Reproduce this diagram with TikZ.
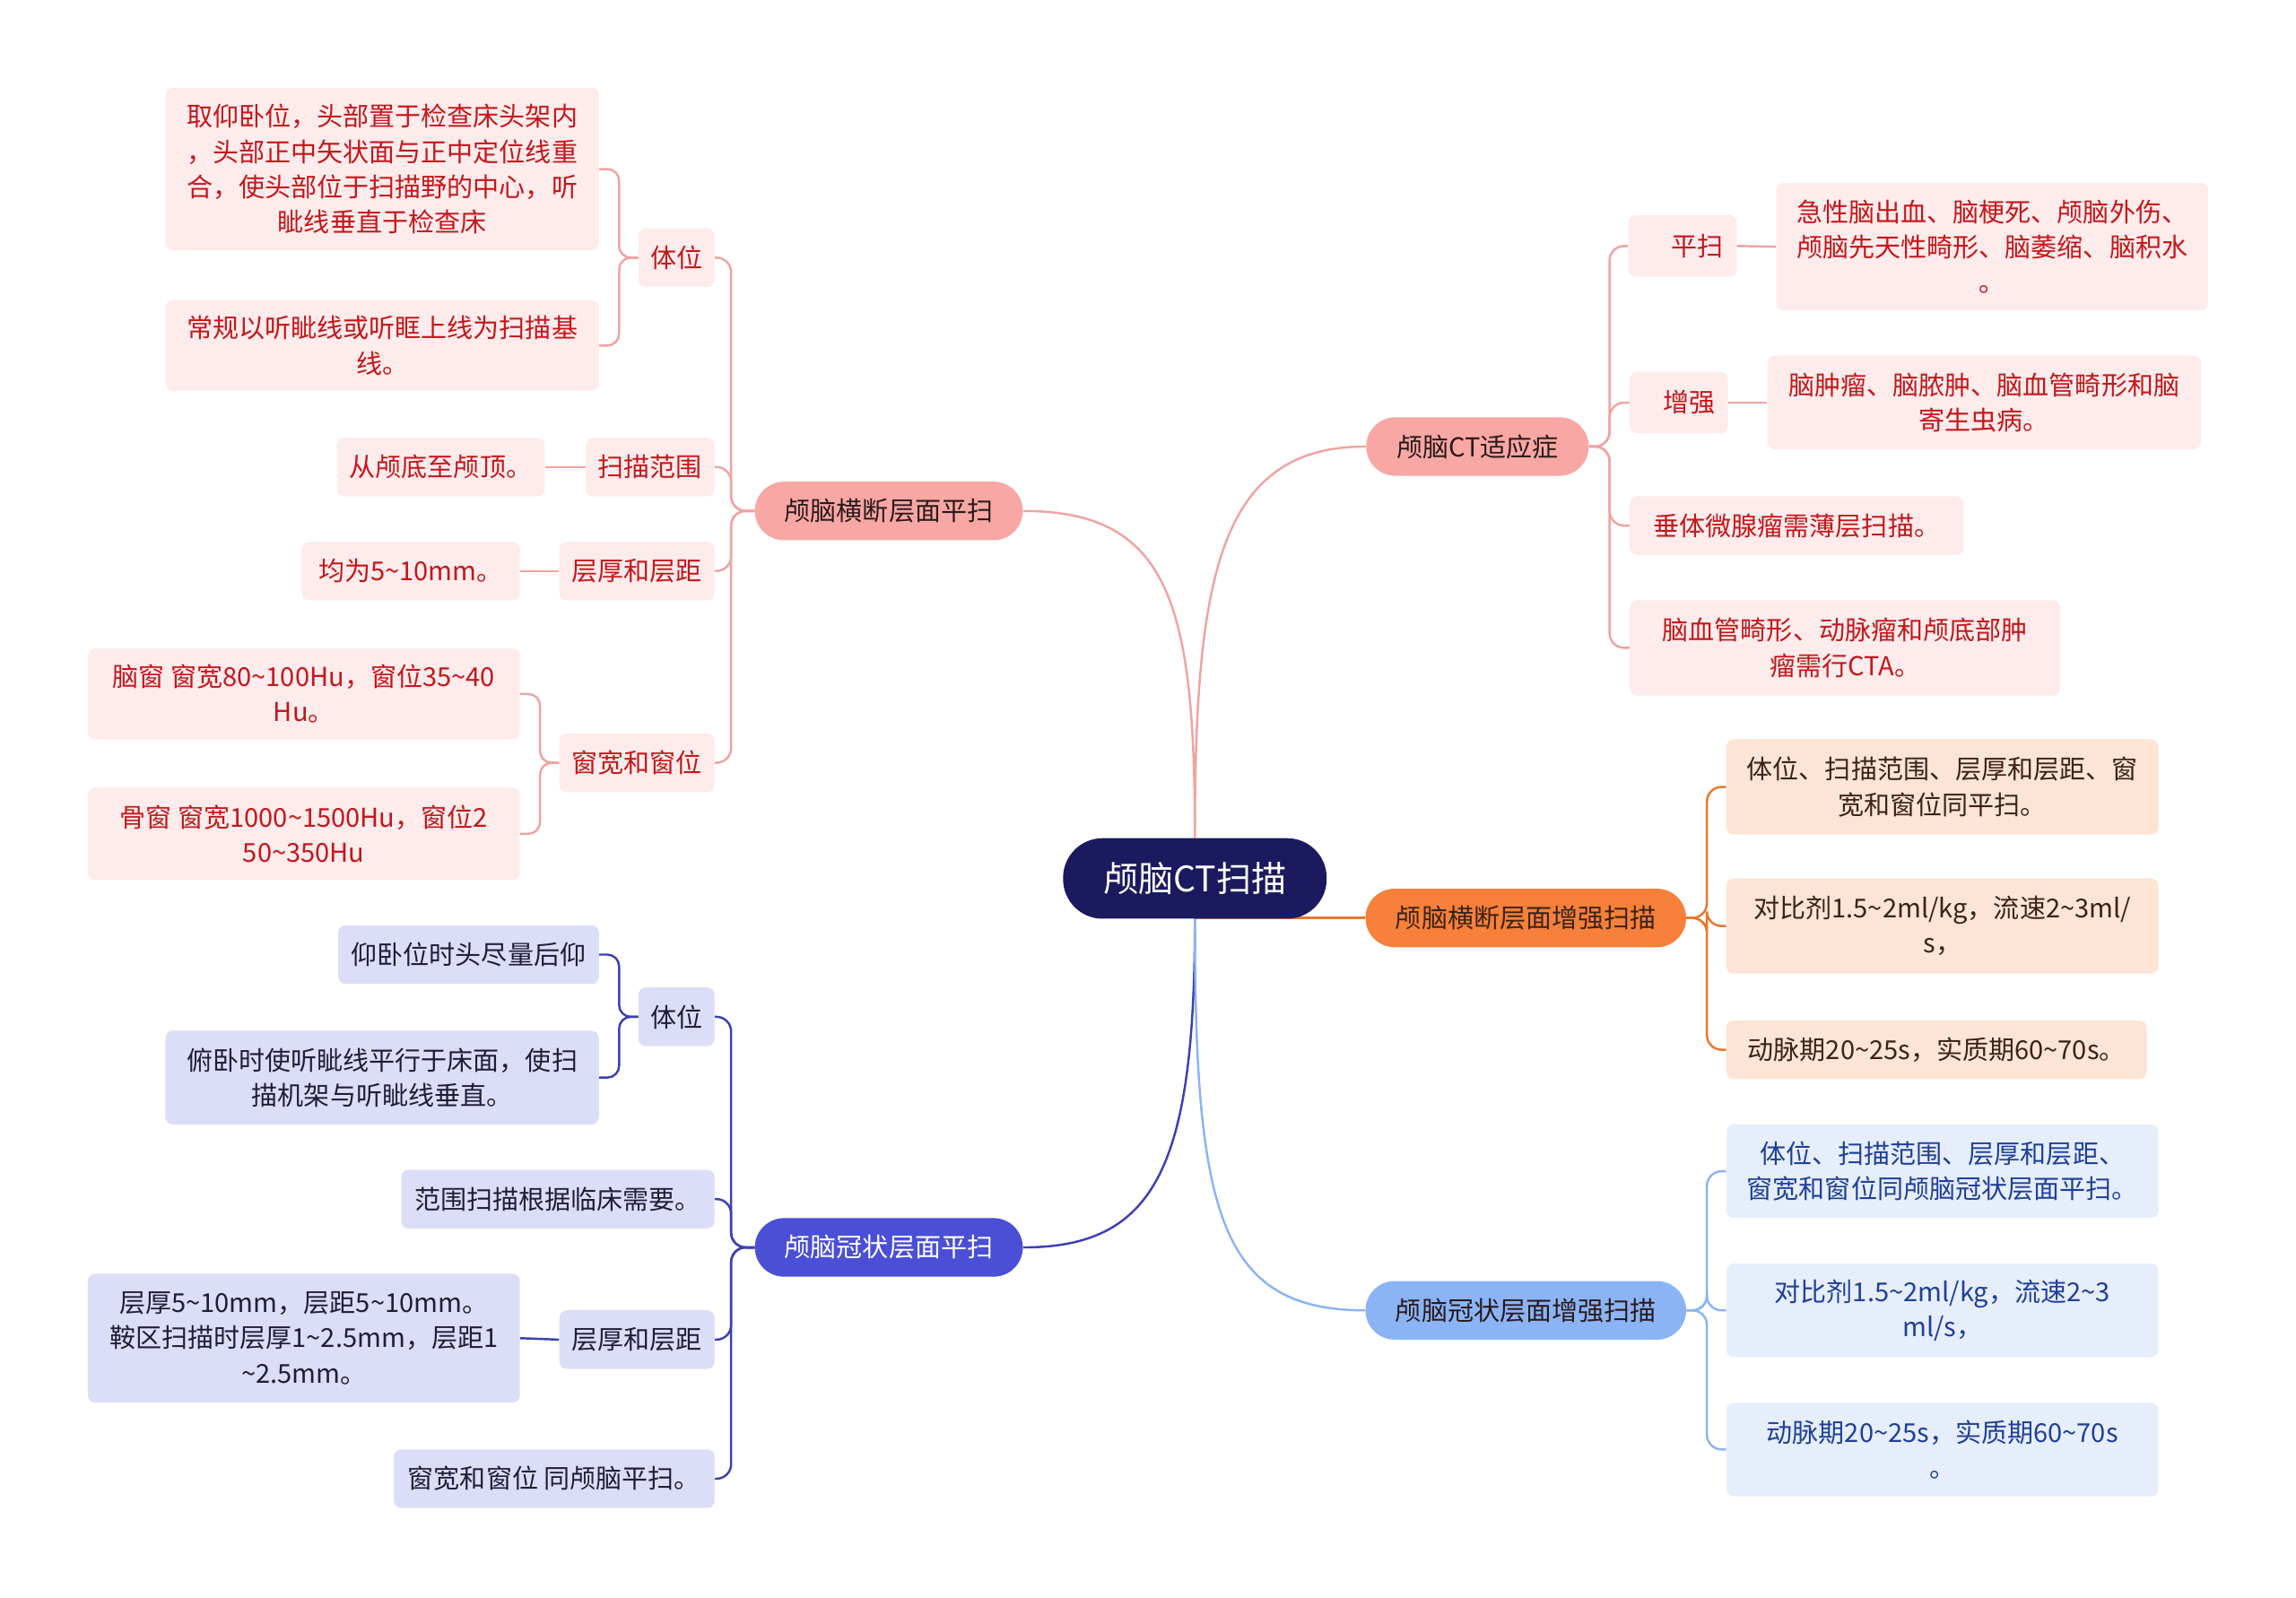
\documentclass[tikz,border=0pt]{standalone}
\usepackage{fontspec}
\setmainfont{Noto Sans CJK SC}
\usepackage{xcolor}
\usepackage{tikz}
\usetikzlibrary{backgrounds}

\definecolor{rootblue}{HTML}{1C1A5E}
\definecolor{pinkmain}{HTML}{F8A7A4}
\definecolor{pinkline}{HTML}{F0A3A1}
\definecolor{pinkleaf}{HTML}{FDECEB}
\definecolor{pinktext}{HTML}{C4161C}
\definecolor{orangemain}{HTML}{F7803A}
\definecolor{orangeline}{HTML}{E8782F}
\definecolor{orangeleaf}{HTML}{FDE4D4}
\definecolor{orangetext}{HTML}{3A2414}
\definecolor{violetmain}{HTML}{4A4FD6}
\definecolor{violetline}{HTML}{3C3FB4}
\definecolor{violetleaf}{HTML}{DCDDF6}
\definecolor{violettext}{HTML}{1E1E3C}
\definecolor{skymain}{HTML}{8AB4F6}
\definecolor{skyleaf}{HTML}{E6EEFC}
\definecolor{skytext}{HTML}{1F3F99}
\definecolor{darktext}{HTML}{2A1A1A}

\newcommand{\tld}{\textasciitilde}

\begin{document}
\begin{tikzpicture}[x=1pt,y=1pt,yscale=-1,xscale=1,
  every node/.style={inner sep=0pt,align=center,font=\fontsize{17.8}{24}\selectfont},
  rootnode/.style={fill=rootblue,text=white,rounded corners=27pt,minimum width=180pt,minimum height=55pt,font=\fontsize{24}{28}\selectfont},
  topic/.style={rounded corners=20pt,minimum height=40pt},
  leaf/.style={rounded corners=5pt,minimum height=40pt},
  pinkbox/.style={leaf,fill=pinkleaf,text=pinktext},
  orangebox/.style={leaf,fill=orangeleaf,text=orangetext},
  violetbox/.style={leaf,fill=violetleaf,text=violettext},
  skybox/.style={leaf,fill=skyleaf,text=skytext},
  link/.style={line width=1.5pt}]

\useasboundingbox (0,0) rectangle (1568,1091);

\draw (816,600) node [rootnode] (root) {颅脑CT扫描};

\draw (607,349) node [topic,fill=pinkmain,text=darktext,minimum width=183pt] (hsp) {颅脑横断层面平扫};

\draw (607,852) node [topic,fill=violetmain,text=white,minimum width=183pt] (gzp) {颅脑冠状层面平扫};

\draw (1009,305) node [topic,fill=pinkmain,text=darktext,minimum width=152pt] (syz) {颅脑CT适应症};

\draw (1042,627) node [topic,fill=orangemain,text=orangetext,minimum width=219pt] (hzq) {颅脑横断层面增强扫描};

\draw (1042,895) node [topic,fill=skymain,text=darktext,minimum width=219pt] (gzq) {颅脑冠状层面增强扫描};


\draw (462,176) node [pinkbox,minimum width=52pt] (hspTw) {体位};

\draw (261,115.5) node [pinkbox,minimum width=296pt,minimum height=111pt] (hspTwA) {取仰卧位，头部置于检查床头架内\\，头部正中矢状面与正中定位线重\\合，使头部位于扫描野的中心，听\\眦线垂直于检查床};

\draw (261,236) node [pinkbox,minimum width=296pt,minimum height=62pt] (hspTwB) {常规以听眦线或听眶上线为扫描基\\线。};

\draw (444,319) node [pinkbox,minimum width=88pt] (hspFw) {扫描范围};

\draw (301,319) node [pinkbox,minimum width=142pt] (hspFwA) {从颅底至颅顶。};

\draw (435,390) node [pinkbox,minimum width=106pt] (hspHd) {层厚和层距};

\draw (280.5,390) node [pinkbox,minimum width=149pt] (hspHdA) {均为5\tld10mm。};

\draw (435,521) node [pinkbox,minimum width=106pt] (hspCk) {窗宽和窗位};

\draw (207.5,474) node [pinkbox,minimum width=295pt,minimum height=62pt] (hspCkA) {脑窗 窗宽80\tld100Hu，窗位35\tld40\\Hu。};

\draw (207.5,569.5) node [pinkbox,minimum width=295pt,minimum height=63pt] (hspCkB) {骨窗 窗宽1000\tld1500Hu，窗位2\\50\tld350Hu};


\draw (1149,168) node [pinkbox,minimum width=74pt,minimum height=42pt] (syzPs) {\hspace{20pt}平扫};

\draw (1360.5,168.5) node [pinkbox,minimum width=295pt,minimum height=87pt] (syzPsA) {急性脑出血、脑梗死、颅脑外伤、\\颅脑先天性畸形、脑萎缩、脑积水\\。};

\draw (1146.5,275) node [pinkbox,minimum width=67pt,minimum height=42pt] (syzZq) {\hspace{14pt}增强};

\draw (1355,275) node [pinkbox,minimum width=296pt,minimum height=64pt] (syzZqA) {脑肿瘤、脑脓肿、脑血管畸形和脑\\寄生虫病。};

\draw (1227,359) node [pinkbox,minimum width=228pt] (syzCt) {垂体微腺瘤需薄层扫描。};

\draw (1260,442.5) node [pinkbox,minimum width=294pt,minimum height=65pt] (syzCta) {脑血管畸形、动脉瘤和颅底部肿\\瘤需行CTA。};


\draw (1326.5,537.5) node [orangebox,minimum width=295pt,minimum height=65pt] (hzqA) {体位、扫描范围、层厚和层距、窗\\宽和窗位同平扫。};

\draw (1326.5,632.5) node [orangebox,minimum width=295pt,minimum height=65pt] (hzqB) {对比剂1.5\tld2ml/kg，流速2\tld3ml/\\s，};

\draw (1322.5,717) node [orangebox,minimum width=287pt] (hzqC) {动脉期20\tld25s，实质期60\tld70s。};


\draw (1326.5,800) node [skybox,minimum width=295pt,minimum height=64pt] (gzqA) {体位、扫描范围、层厚和层距、\\窗宽和窗位同颅脑冠状层面平扫。};

\draw (1326.5,895) node [skybox,minimum width=295pt,minimum height=64pt] (gzqB) {对比剂1.5\tld2ml/kg，流速2\tld3\\ml/s，};

\draw (1326.5,990) node [skybox,minimum width=295pt,minimum height=64pt] (gzqC) {动脉期20\tld25s，实质期60\tld70s\\。};


\draw (462,694.5) node [violetbox,minimum width=52pt] (gzpTw) {体位};

\draw (320,652) node [violetbox,minimum width=178pt] (gzpTwA) {仰卧位时头尽量后仰};

\draw (261,736) node [violetbox,minimum width=296pt,minimum height=64pt] (gzpTwB) {俯卧时使听眦线平行于床面，使扫\\描机架与听眦线垂直。};

\draw (381,819) node [violetbox,minimum width=214pt] (gzpFw) {范围扫描根据临床需要。};

\draw (435,915) node [violetbox,minimum width=106pt] (gzpHd) {层厚和层距};

\draw (207.5,914) node [violetbox,minimum width=295pt,minimum height=88pt] (gzpHdA) {层厚5\tld10mm，层距5\tld10mm。\\鞍区扫描时层厚1\tld2.5mm，层距1\\\tld2.5mm。};

\draw (378.5,1010) node [violetbox,minimum width=219pt] (gzpCk) {窗宽和窗位 同颅脑平扫。};


\begin{pgfonlayer}{background}
\draw [link,pinkline] (root.north) .. controls +(0,-160) and +(100,0) .. (hsp.east);
\draw [link,pinkline] (root.north) .. controls +(0,-180) and +(-100,0) .. (syz.west);
\draw [link,orangeline] (root |- hzq.west) -- (hzq.west);
\draw [link,violetline] (root.south) .. controls +(0,170) and +(90,0) .. (gzp.east);
\draw [link,skymain] (root.south) .. controls +(0,200) and +(-100,0) .. (gzq.west);

\draw [link,pinkline,rounded corners=10pt] (hsp.west) -- ++(-16,0) |- (hspTw.east);
\draw [link,pinkline,rounded corners=10pt] (hsp.west) -- ++(-16,0) |- (hspFw.east);
\draw [link,pinkline,rounded corners=10pt] (hsp.west) -- ++(-16,0) |- (hspHd.east);
\draw [link,pinkline,rounded corners=10pt] (hsp.west) -- ++(-16,0) |- (hspCk.east);
\draw [link,pinkline,rounded corners=8pt] (hspTw.west) -- ++(-13,0) |- (hspTwA.east);
\draw [link,pinkline,rounded corners=8pt] (hspTw.west) -- ++(-13,0) |- (hspTwB.east);
\draw [link,pinkline] (hspFw.west) -- (hspFwA.east);
\draw [link,pinkline] (hspHd.west) -- (hspHdA.east);
\draw [link,pinkline,rounded corners=8pt] (hspCk.west) -- ++(-13,0) |- (hspCkA.east);
\draw [link,pinkline,rounded corners=8pt] (hspCk.west) -- ++(-13,0) |- (hspCkB.east);

\draw [link,pinkline,rounded corners=10pt] (syz.east) -- ++(14,0) |- (syzPs.west);
\draw [link,pinkline,rounded corners=10pt] (syz.east) -- ++(14,0) |- (syzZq.west);
\draw [link,pinkline,rounded corners=10pt] (syz.east) -- ++(14,0) |- (syzCt.west);
\draw [link,pinkline,rounded corners=10pt] (syz.east) -- ++(14,0) |- (syzCta.west);
\draw [link,pinkline] (syzPs.east) -- (syzPsA.west);
\draw [link,pinkline] (syzZq.east) -- (syzZqA.west);

\draw [link,orangeline,rounded corners=10pt] (hzq.east) -- ++(14,0) |- (hzqA.west);
\draw [link,orangeline,rounded corners=10pt] (hzq.east) -- ++(14,0) |- (hzqB.west);
\draw [link,orangeline,rounded corners=10pt] (hzq.east) -- ++(14,0) |- (hzqC.west);

\draw [link,skymain,rounded corners=10pt] (gzq.east) -- ++(14,0) |- (gzqA.west);
\draw [link,skymain,rounded corners=10pt] (gzq.east) -- ++(14,0) |- (gzqB.west);
\draw [link,skymain,rounded corners=10pt] (gzq.east) -- ++(14,0) |- (gzqC.west);

\draw [link,violetline,rounded corners=10pt] (gzp.west) -- ++(-16,0) |- (gzpTw.east);
\draw [link,violetline,rounded corners=10pt] (gzp.west) -- ++(-16,0) |- (gzpFw.east);
\draw [link,violetline,rounded corners=10pt] (gzp.west) -- ++(-16,0) |- (gzpHd.east);
\draw [link,violetline,rounded corners=10pt] (gzp.west) -- ++(-16,0) |- (gzpCk.east);
\draw [link,violetline,rounded corners=8pt] (gzpTw.west) -- ++(-13,0) |- (gzpTwA.east);
\draw [link,violetline,rounded corners=8pt] (gzpTw.west) -- ++(-13,0) |- (gzpTwB.east);
\draw [link,violetline] (gzpHd.west) -- (gzpHdA.east);
\end{pgfonlayer}

\end{tikzpicture}
\end{document}
